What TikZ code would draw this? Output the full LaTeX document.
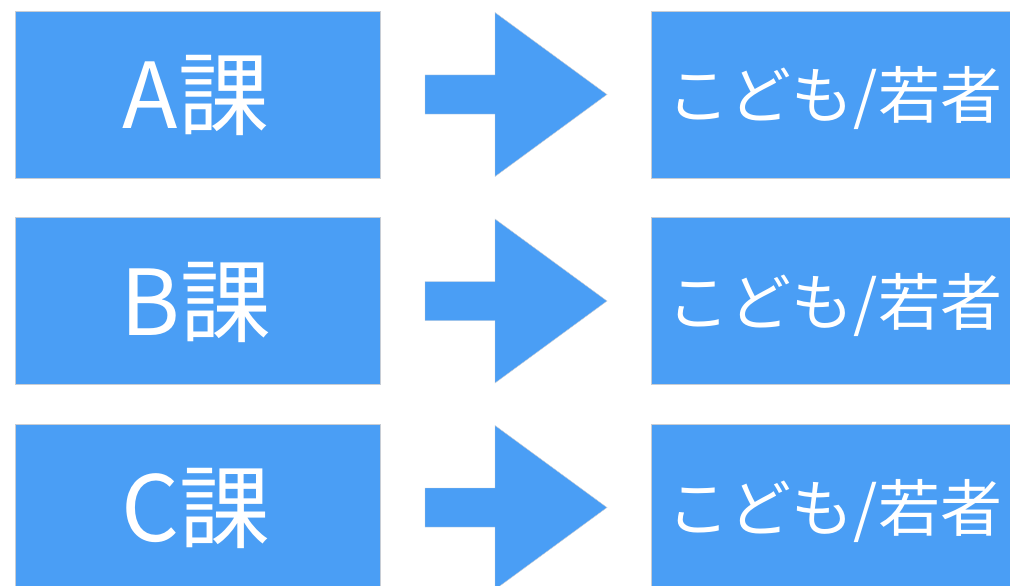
\documentclass[tikz,border=0pt]{standalone}
\usepackage{fontspec}
\setmainfont{Noto Sans CJK JP}
\definecolor{boxblue}{RGB}{74,158,245}
\definecolor{edgegray}{RGB}{200,205,212}
\begin{document}
\begin{tikzpicture}[x=1pt,y=-1pt,
  bluebox/.style={fill=boxblue,draw=edgegray,line width=0.6pt},
  lefttext/.style={text=white,font=\fontsize{91}{93}\selectfont,anchor=center,inner sep=0pt},
  righttext/.style={text=white,font=\fontsize{62}{64}\selectfont,anchor=center,inner sep=0pt},
  blockarrow/.style={fill=boxblue,draw=edgegray,line width=0.4pt}]
\useasboundingbox (0,0) rectangle (1010,586);
\clip (0,0) rectangle (1010,586);
\foreach \name/\lab [count=\i from 0] in {a/A課,b/B課,c/C課}{
  \pgfmathsetmacro{\top}{11+206.5*\i}
  \pgfmathsetmacro{\mid}{\top+83.5}
  \draw[bluebox] (15,\top) rectangle (380,\top+167);
  \node[lefttext] (\name L) at (196,\mid+1) {\lab};
  \draw[bluebox] (651,\top) rectangle (1015,\top+167);
  \node[righttext] (\name R) at (835,\mid+4) {こども/若者};
  \draw[blockarrow] (425,\mid-19.5) -- (495,\mid-19.5) -- (495,\mid-82) -- (607,\mid) -- (495,\mid+82) -- (495,\mid+19.5) -- (425,\mid+19.5) -- cycle;
}
\end{tikzpicture}
\end{document}
